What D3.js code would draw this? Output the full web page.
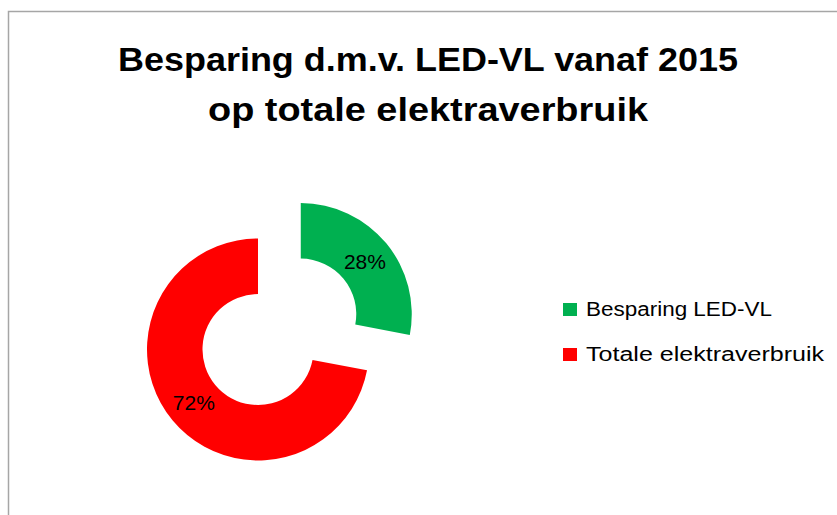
<!DOCTYPE html>
<html>
<head>
<meta charset="utf-8">
<script src="https://cdn.jsdelivr.net/npm/d3@7"></script>
<style>
  html, body { margin: 0; padding: 0; background: #fff; }
  svg { display: block; }
</style>
</head>
<body>
<svg id="chart" width="837" height="515"></svg>
<script>
const titleLines = ["Besparing d.m.v. LED-VL vanaf 2015", "op totale elektraverbruik"];
const categories = ["Besparing LED-VL", "Totale elektraverbruik"];
const values = [28, 72];
const labels = ["28%", "72%"];
const colors = ["#00b050", "#ff0000"];
const exploded = [true, false];

const svg = d3.select("#chart");

// chart area border
svg.append("rect")
  .attr("x", 8.5).attr("y", 11.5)
  .attr("width", 900).attr("height", 600)
  .attr("fill", "#fff")
  .attr("stroke", "#a6a6a6").attr("stroke-width", 1.5);

// title
const titleWidths = [620, 440];
const titleG = svg.append("g");
titleLines.forEach((t, i) => {
  titleG.append("text")
    .attr("x", 428).attr("y", 71 + i * 50)
    .attr("text-anchor", "middle")
    .attr("font-family", "'Liberation Sans', Arial, sans-serif")
    .attr("font-weight", "bold")
    .attr("font-size", 33.5)
    .attr("textLength", titleWidths[i])
    .attr("lengthAdjust", "spacingAndGlyphs")
    .attr("fill", "#000")
    .text(t);
});

// donut
const cx = 258, cy = 349.5, R = 111, r = 55.5, explode = 55.5;
const pie = d3.pie().sort(null).value(d => d)(values);
const arc = d3.arc().innerRadius(r).outerRadius(R);
const labelArc = d3.arc().innerRadius((R + r) / 2).outerRadius((R + r) / 2);

const g = svg.append("g").attr("transform", `translate(${cx},${cy})`);
const slices = g.selectAll("g.slice").data(pie).enter().append("g")
  .attr("class", "slice")
  .attr("transform", (d, i) => {
    if (!exploded[i]) return null;
    const a = (d.startAngle + d.endAngle) / 2;
    return `translate(${explode * Math.sin(a)},${-explode * Math.cos(a)})`;
  });
slices.append("path")
  .attr("d", arc)
  .attr("fill", (d, i) => colors[i]);
slices.append("text")
  .attr("transform", d => `translate(${labelArc.centroid(d)})`)
  .attr("dy", "0.36em")
  .attr("text-anchor", "middle")
  .attr("font-family", "'Liberation Sans', Arial, sans-serif")
  .attr("font-size", 21)
  .attr("fill", "#000")
  .text((d, i) => labels[i]);

// legend
const legend = svg.append("g");
const legendWidths = [186, 238];
categories.forEach((c, i) => {
  const y = 303 + i * 45;
  legend.append("rect")
    .attr("x", 563).attr("y", y).attr("width", 14).attr("height", 13)
    .attr("fill", colors[i]);
  legend.append("text")
    .attr("x", 586).attr("y", y + 13)
    .attr("font-family", "'Liberation Sans', Arial, sans-serif")
    .attr("font-size", 19.5)
    .attr("textLength", legendWidths[i])
    .attr("lengthAdjust", "spacingAndGlyphs")
    .attr("fill", "#000")
    .text(c);
});
</script>
</body>
</html>
